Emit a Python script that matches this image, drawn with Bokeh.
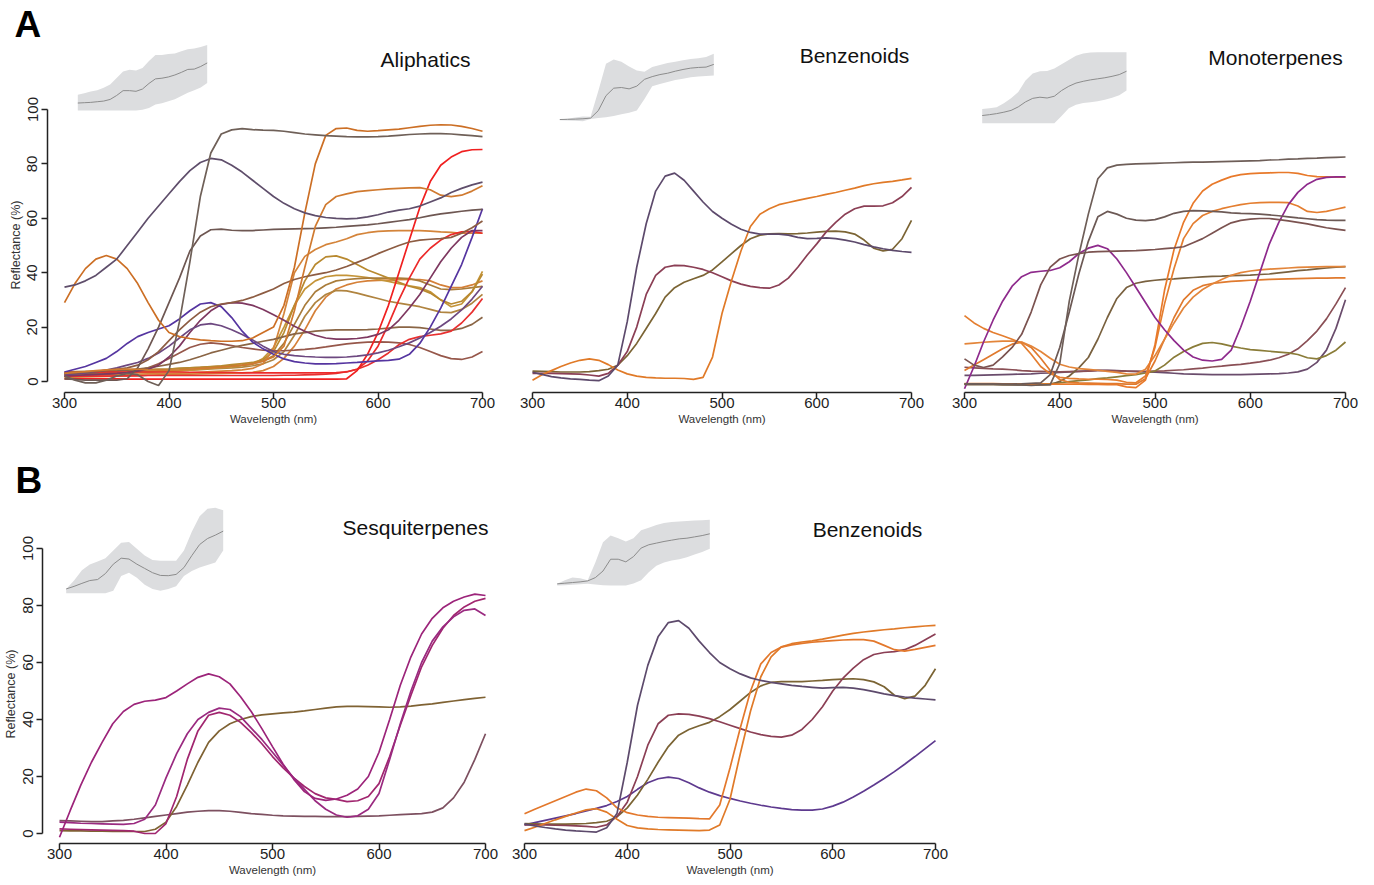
from bokeh.plotting import figure
from bokeh.models import Range1d, Label, FixedTicker, Title
from bokeh.layouts import column, row
from bokeh.embed import file_html
from bokeh.resources import INLINE

FONT = "Liberation Sans"

wavelength = list(range(300, 701, 10))
inset_wavelength = list(range(300, 701, 20))
x_ticks = [300, 400, 500, 600, 700]
y_ticks = [0, 20, 40, 60, 80, 100]

# ---------------- Aliphatics ----------------
ali_c1 = [2.0, 0.5, -0.5, -0.5, 0.5, 2.0, 3.0, 2.5, 0.0, -1.5,
          4.0, 22, 44, 68, 84, 91, 92.5, 93, 92.6, 92.4,
          92.3, 92, 91.5, 91, 90.7, 90.4, 90.2, 90, 89.9, 89.9,
          90, 90.2, 90.5, 90.8, 91, 91.1, 91.1, 91, 90.7, 90.4, 90]
ali_c2 = [34.7, 35.5, 37, 39, 42, 45, 50, 55, 60, 64.5,
          69, 73.5, 77.5, 80.5, 82, 81.5, 79.5, 77, 74, 71,
          68, 65.5, 63.5, 62, 61, 60.3, 60, 59.8, 60, 60.5,
          61.3, 62.3, 63, 63.5, 64.5, 66, 67.5, 69.5, 71, 72.3, 73.3]
ali_c3 = [29, 36, 41.5, 45, 46.3, 45, 41.5, 36, 29, 22.5,
          18, 16.5, 15.8, 15.3, 15, 14.8, 14.8, 15, 16, 18,
          20, 28, 42, 62, 80, 90.5, 93, 93.2, 92.3, 92,
          92.2, 92.5, 92.8, 93.3, 93.8, 94.2, 94.4, 94.3, 93.8, 93, 92]
ali_c4 = [3, 3.3, 3.6, 4, 4.3, 4.5, 4.6, 4.5, 4.3, 4.2,
          4.2, 4.3, 4.5, 4.8, 5, 5.3, 5.6, 6, 6.5, 7.5,
          9, 13, 26, 42, 57, 65, 68, 69, 69.8, 70.2,
          70.5, 70.8, 71, 71.2, 71.3, 70.5, 68.5, 68, 68.5, 70, 72]
ali_c5 = [1, 0.8, 0.5, 0.5, 0.5, 0.5, 1, 5, 12, 20,
          29, 38, 48, 53.5, 55.8, 56, 55.6, 55.5, 55.5, 55.7,
          55.9, 56, 56.1, 56.2, 56.3, 56.5, 56.7, 57, 57.3, 57.6,
          58, 58.5, 59, 59.5, 60.2, 61, 61.6, 62.1, 62.6, 63, 63.3]
ali_c6 = [3, 3.2, 3.5, 3.7, 4, 4.5, 5, 6, 8, 11,
          15, 19, 22.5, 25.5, 27.5, 28.5, 29, 29.8, 31, 32.5,
          34, 36, 37.5, 38.5, 39.3, 40, 41, 42.3, 43.8, 45.3,
          47, 48.5, 50, 51.3, 52, 52.3, 52.5, 53, 54.5, 56.5, 59]
ali_c7 = [3.5, 4.5, 5.5, 7, 8.5, 11, 14, 16.5, 18, 19.3,
          20.5, 23, 26, 28.5, 29, 27.5, 23.5, 18.5, 14.5, 12,
          10, 8.3, 7.3, 6.8, 6.5, 6.5, 6.6, 6.8, 7, 7.3,
          7.6, 7.8, 8.2, 10, 14, 20, 27, 35, 43, 53, 63.5]
ali_c8 = [2.5, 2.8, 3.2, 3.6, 4.2, 5, 6, 7, 8.5, 10.5,
          13, 16, 19, 20.8, 21.3, 20.5, 19, 17.3, 15.3, 13,
          11, 10, 9.5, 9.2, 9, 8.9, 8.9, 9, 9.3, 9.8,
          10.5, 11.5, 12.8, 14.2, 16, 18, 20.3, 23, 26.3, 30.3, 35]
ali_c9 = [2, 2.2, 2.4, 2.6, 2.8, 3, 3.3, 3.8, 4.5, 6,
          9, 13, 18, 22.5, 26, 28.3, 29, 28.8, 28, 26.5,
          24.5, 22.5, 20.3, 18.5, 17, 16, 15.6, 15.6, 15.8, 16.3,
          17.3, 19, 22.5, 27, 32, 38, 44, 49, 53, 55.5, 55.5]
ali_c10 = [2.5, 2.7, 3, 3.2, 3.5, 3.8, 4.2, 4.6, 5, 5.6,
           6.3, 7, 8, 9.2, 10.5, 11.5, 12.5, 13.3, 14, 14.8,
           15.5, 16.5, 17.5, 18, 18.5, 18.8, 19, 19, 19, 19.1,
           19.3, 19.6, 20, 20, 19.8, 19.3, 18.8, 18.8, 19.5, 21, 23.6]
ali_c11 = [1.8, 2, 2.2, 2.4, 2.6, 3, 3.5, 4, 5, 6.5,
           8.5, 10.5, 12.5, 13.7, 14.2, 13.8, 13.2, 12.5, 12, 11.5,
           11.3, 11.3, 11.5, 11.8, 12.2, 12.7, 13.3, 13.8, 14.2, 14.5,
           14.6, 14.5, 14.2, 13.6, 12.5, 11, 9.5, 8.4, 8.1, 9, 11]
ali_c12 = [2, 2.1, 2.2, 2.3, 2.4, 2.5, 2.6, 2.7, 2.8, 2.9,
           3, 3.1, 3.2, 3.4, 3.6, 3.8, 4, 4.3, 4.8, 6.5,
           12, 25, 40, 46, 48.5, 50.3, 51.3, 52.5, 54, 54.7,
           55.2, 55.4, 55.5, 55.5, 55.5, 55.3, 55, 54.8, 54.5, 54.5, 54.5]
ali_r1 = [1, 1, 1, 1, 1, 1, 0.9, 0.9, 0.9, 0.9,
          0.9, 0.9, 0.9, 0.9, 0.9, 0.9, 0.9, 0.9, 0.9, 0.9,
          0.9, 0.9, 0.9, 0.9, 0.9, 0.9, 0.9, 1, 4, 10,
          18, 28, 40, 52, 64, 73.5, 79.5, 82.5, 84.5, 85.2, 85.3]
ali_r2 = [3.3, 3.3, 3.4, 3.4, 3.5, 3.5, 3.5, 3.5, 3.5, 3.5,
          3.5, 3.5, 3.4, 3.4, 3.3, 3.3, 3.3, 3.2, 3.2, 3.2,
          3.2, 3.2, 3.2, 3.2, 3.2, 3.2, 3.3, 3.5, 4.5, 7.5,
          13, 21, 30, 38, 45, 49, 52, 54, 55, 55.2, 54.5]
ali_r3 = [2, 2, 2, 2, 2, 2.1, 2.1, 2.1, 2.2, 2.2,
          2.2, 2.2, 2.2, 2.2, 2.2, 2.2, 2.2, 2.2, 2.2, 2.2,
          2.2, 2.3, 2.3, 2.4, 2.5, 2.7, 3, 3.6, 4.5, 6,
          8, 10.5, 13.5, 15.5, 16.5, 17, 17.5, 18.5, 21.5, 25.5, 30.5]
ali_t1 = [3, 3.2, 3.4, 3.6, 3.8, 4, 4.2, 4.3, 4.4, 4.5,
          4.6, 4.8, 5, 5.2, 5.5, 5.8, 6.2, 6.6, 7, 8,
          11, 18, 28, 37, 43, 45.8, 46.2, 45, 43, 41,
          39.5, 38, 36.5, 35, 34, 32.5, 30, 28.5, 29.5, 33, 39.5]
ali_t2 = [3.5, 3.6, 3.7, 3.8, 4, 4.1, 4.2, 4.3, 4.4, 4.5,
          4.6, 4.8, 5, 5.2, 5.4, 5.6, 5.8, 6, 6.5, 7.5,
          9.5, 14, 21, 28, 33, 35.5, 37, 37.5, 37.8, 38,
          38, 38, 38, 37.8, 37, 35.5, 34, 33.8, 34, 34.5, 35]
ali_t3 = [2.5, 2.6, 2.7, 2.8, 3, 3.1, 3.2, 3.3, 3.4, 3.6,
          3.8, 4, 4.2, 4.5, 4.8, 5.1, 5.4, 5.8, 6.5, 8.5,
          12.5, 20, 28, 34, 37, 38.5, 39, 39, 38.7, 38.2,
          37.5, 36.8, 36, 35.2, 34.5, 33, 30, 27.5, 28.5, 33, 40.5]
ali_t4 = [2.8, 2.9, 3, 3.1, 3.2, 3.3, 3.4, 3.5, 3.6, 3.7,
          3.8, 4, 4.2, 4.4, 4.6, 4.8, 5, 5.3, 5.8, 6.5,
          8, 11, 17, 24, 29, 32, 33.5, 33.3, 32.5, 31.5,
          30.5, 29.5, 28.8, 28.2, 27.5, 26.5, 25.5, 25.3, 26.5, 28.8, 32]
ali_t5 = [1.5, 1.6, 1.7, 1.8, 1.9, 2, 2.1, 2.2, 2.3, 2.4,
          2.5, 2.6, 2.7, 2.8, 2.9, 3, 3.1, 3.2, 3.4, 4,
          5.5, 8.5, 13, 19, 26, 31, 34, 35.5, 36.5, 37,
          37.2, 37.3, 37.4, 37.5, 37.5, 37, 35.5, 34.5, 34.5, 35.5, 37]

# ---------------- Benzenoids (A) ----------------
ben_a_purple = [3.4, 2.6, 1.8, 1.3, 1, 0.8, 0.5, 0.3, 2, 6,
                22, 42, 58, 70, 75.5, 76.6, 74, 70, 66, 62.5,
                60, 57.8, 56, 54.8, 54.2, 54.2, 54.2, 53.8, 53, 52.5,
                52.6, 52.8, 52.5, 52, 51.3, 50.3, 49.5, 48.8, 48.2, 47.8, 47.5]
ben_a_orange = [0.5, 2.5, 4, 5.5, 6.8, 7.8, 8.3, 7.8, 6.2, 4.2,
                2.8, 2, 1.5, 1.3, 1.2, 1.2, 1.1, 0.8, 1.5, 9,
                25, 37, 48, 57, 61.5, 63.5, 65, 65.8, 66.6, 67.3,
                68, 68.8, 69.5, 70.3, 71.1, 72, 72.7, 73.2, 73.6, 74.1, 74.7]
ben_a_maroon = [3, 3, 3, 2.9, 2.8, 2.7, 2.4, 2, 3, 6,
                11, 20, 32, 39, 42, 42.7, 42.6, 42, 41.2, 40,
                38.5, 37, 35.8, 35, 34.5, 34.3, 35.5, 38, 42, 46.5,
                50.6, 55, 58.5, 61.5, 63.5, 64.5, 64.5, 64.6, 65.7, 68, 71.4]
ben_a_olive = [3.8, 3.7, 3.6, 3.5, 3.5, 3.5, 3.6, 4, 4.5, 6,
               9.5, 14, 19.5, 25, 31, 34.5, 36.5, 37.8, 39, 41,
               44, 47, 50, 52.5, 53.8, 54.3, 54.4, 54.3, 54.4, 54.6,
               54.9, 55.2, 55.3, 55, 54.2, 52, 49, 48, 48.6, 52.5, 59.2]

# ---------------- Monoterpenes ----------------
mono_1 = [0.6, 0.6, 0.5, 0.5, 0.4, 0.3, 0.2, 0, 0.2, 0.3,
          8, 31, 48, 63, 76, 80, 81, 81.3, 81.5, 81.6,
          81.7, 81.8, 81.9, 82, 82.1, 82.1, 82.2, 82.3, 82.4, 82.5,
          82.6, 82.7, 82.9, 83, 83.2, 83.3, 83.5, 83.6, 83.8, 83.9, 84]
mono_2 = [0.5, 0.5, 0.5, 0.5, 0.5, 0.5, 0.6, 0.8, 1, 4,
          14, 27, 41, 53, 62, 64, 63, 61.5, 60.8, 60.6,
          61, 62, 63.3, 64, 64.3, 64.2, 64, 63.8, 63.5, 63.3,
          63.2, 63, 62.7, 62.4, 62, 61.6, 61.3, 61, 60.8, 60.7, 60.7]
mono_3 = [9.8, 7.5, 6.6, 7.5, 10.5, 14, 18.8, 27, 37, 43.5,
          46.5, 47.8, 48.5, 49, 49.2, 49.3, 49.4, 49.5, 49.6, 49.8,
          50, 50.3, 50.6, 51, 52.5, 54, 56, 58, 59.8, 60.7,
          61.2, 61.4, 61.4, 61, 60.5, 60, 59.4, 58.7, 58, 57.5, 57]
mono_4 = [-1.2, 7, 16, 24, 31, 36.5, 40, 41.6, 42, 42.3,
          43.3, 45.5, 48.5, 50.5, 51.5, 50.3, 46.5, 41.5, 36, 30.5,
          25, 20.5, 16.5, 13, 10.5, 9.3, 9, 9.6, 13, 21.4,
          31, 41.5, 52, 60, 66.5, 71, 74, 75.8, 76.5, 76.7, 76.7]
mono_5 = [0.7, 0.7, 0.7, 0.7, 0.6, 0.6, 0.5, 0.5, 0.5, 0.5,
          0.5, 0.5, 0.5, 0.4, 0.4, 0.3, 0.3, -0.5, -0.8, 2,
          15, 35, 50, 60, 67, 71.5, 74, 75.5, 76.8, 77.5,
          77.9, 78.1, 78.2, 78.3, 78.3, 78, 77.2, 76.8, 76.7, 76.6, 76.6]
mono_6 = [25.7, 23, 21, 19.5, 18.3, 17, 15.5, 11.5, 7, 4.3,
          3, 2.6, 2.4, 2.3, 2.3, 2.2, 2, 1.2, 1, 3.5,
          14, 30, 43, 54, 59.5, 62.5, 64, 65, 65.8, 66.5,
          67, 67.2, 67.3, 67.3, 67.2, 66, 64, 63.6, 64, 64.8, 65.6]
mono_7 = [15.3, 15.6, 15.9, 16.1, 16.3, 16.3, 16, 14.5, 12.5, 10,
          7.8, 6.8, 6.2, 5.9, 5.6, 5.2, 4.8, 4.3, 4.2, 6,
          11, 17, 23, 28.5, 32.5, 35.3, 37.3, 39, 40.5, 41.5,
          42.1, 42.5, 42.8, 43, 43.2, 43.4, 43.5, 43.6, 43.7, 43.7, 43.7]
mono_8 = [5.5, 7.5, 9.5, 11.5, 13.5, 15.2, 15.9, 14, 10, 5.5,
          2.2, 1.2, 1, 0.9, 0.8, 0.7, 0.7, 0.5, 0.5, 2.5,
          9, 17, 25, 31.5, 35, 36.7, 37.5, 37.9, 38.3, 38.5,
          38.7, 38.8, 39, 39.1, 39.2, 39.3, 39.4, 39.5, 39.5, 39.6, 39.6]
mono_9 = [0.3, 0.3, 0.3, 0.3, 0.2, 0.2, 0.2, 0.2, 0.2, 0.3,
          1.5, 3.5, 6.5, 10.3, 17, 25, 32, 36, 37.6, 38.3,
          38.7, 39, 39.2, 39.5, 39.7, 39.9, 40.1, 40.2, 40.4, 40.5,
          40.6, 40.8, 41, 41.4, 41.8, 42.2, 42.5, 42.9, 43.2, 43.5, 43.7]
mono_10 = [0.5, 0.5, 0.5, 0.5, 0.5, 0.5, 0.5, 0.5, 0.5, 0.7,
           1, 1.4, 1.8, 2.1, 2.5, 2.8, 3.2, 3.6, 4, 4.6,
           5.3, 7.5, 10.4, 12.5, 14.2, 15.5, 15.8, 15.3, 14.5, 13.8,
           13.2, 12.9, 12.6, 12.3, 12, 11.4, 10.2, 9.8, 11, 13, 16]
mono_11 = [6.7, 6.5, 6.3, 6.1, 6, 5.8, 5.5, 5.3, 5.2, 5.1,
           5, 5.1, 5.2, 5.3, 5.5, 5.5, 5.4, 5.3, 5.2, 5.2,
           5.3, 5.4, 5.6, 5.8, 6.1, 6.4, 6.8, 7.1, 7.5, 7.8,
           8.2, 8.7, 9.3, 10.2, 11.5, 13.5, 16.5, 20, 24.5, 30, 36]
mono_12 = [3.7, 3.7, 3.8, 3.9, 4, 4.1, 4.2, 4.3, 4.5, 4.6,
           4.8, 5, 5.2, 5.4, 5.6, 5.6, 5.5, 5.3, 5.2, 5,
           4.9, 4.7, 4.5, 4.3, 4.2, 4.1, 4, 4, 4, 4,
           4.1, 4.2, 4.3, 4.4, 4.6, 5, 6, 8.5, 13, 21, 31.5]

# ---------------- Sesquiterpenes ----------------
ses_1 = [-1.3, 8, 17, 25, 32, 38.5, 42.8, 45.3, 46.4, 46.8,
         47.7, 50, 52.5, 54.8, 56, 55, 52.5, 48, 42.8, 36.8,
         30.5, 24.3, 19, 14.7, 12.3, 11.6, 12.1, 13.4, 15.6, 20,
         28.5, 40, 52, 62, 70, 75.5, 79.2, 81.5, 83, 84, 83.5]
ses_2 = [4, 3.8, 3.6, 3.5, 3.4, 3.3, 3.2, 3.5, 5, 10,
         19.5, 28, 35, 40, 42.5, 44, 43.5, 41, 37, 33,
         28.5, 24, 19.5, 15.5, 11.5, 8.5, 6.5, 5.7, 6.2, 8.5,
         14, 26, 38.5, 50, 60, 67.5, 72.5, 76, 78.3, 78.8, 76.5]
ses_3 = [1.6, 1.5, 1.4, 1.3, 1.2, 1.1, 1, 0.8, 0, 0,
         3.5, 13, 26, 36, 41.5, 42.5, 41.5, 39, 35.5, 31.5,
         27, 23, 19.5, 16.5, 14, 12.5, 12, 11.2, 11.5, 13,
         17.5, 27, 38, 48.5, 58.5, 66, 72, 76.5, 79.5, 81.5, 82.5]
ses_4 = [1, 0.95, 0.9, 0.85, 0.8, 0.75, 0.7, 0.7, 0.7, 1.5,
         4, 9.5, 17, 25, 32, 36, 38.5, 40, 41, 41.6,
         42, 42.3, 42.6, 43, 43.5, 44, 44.4, 44.6, 44.6, 44.5,
         44.4, 44.3, 44.4, 44.7, 45.1, 45.5, 46, 46.5, 47, 47.4, 47.8]
ses_5 = [4.5, 4.4, 4.3, 4.2, 4.2, 4.4, 4.6, 5, 5.5, 6,
         6.5, 7, 7.5, 7.8, 8, 8, 7.8, 7.4, 7, 6.7,
         6.4, 6.2, 6.1, 6, 6, 5.9, 5.9, 5.9, 6, 6.1,
         6.2, 6.4, 6.6, 6.8, 7, 7.5, 9, 12.5, 18, 26, 35]

# ---------------- Benzenoids (B) ----------------
ben_b_purple = [3.4, 2.7, 2.1, 1.6, 1.2, 0.9, 0.7, 0.5, 2, 7,
                25, 45, 59, 69, 74, 74.7, 72, 67.5, 63.5, 60,
                57.8, 56, 54.6, 53.7, 53, 52.5, 52, 51.6, 51.3, 51,
                51.2, 51.3, 51, 50.5, 49.8, 49, 48.4, 47.9, 47.5, 47.2, 46.9]
ben_b_orange1 = [6.9, 8.5, 10, 11.5, 13, 14.5, 15.6, 15, 12.5, 9,
                 7.3, 6.5, 6, 5.7, 5.6, 5.5, 5.4, 5.2, 5.1, 10,
                 23, 37, 50, 59.5, 63.5, 65.4, 66.2, 66.7, 67.1, 67.4,
                 67.7, 67.9, 68, 68, 67.5, 66, 64.5, 64, 64.6, 65.3, 66]
ben_b_orange2 = [1, 2.2, 3.5, 4.8, 6, 7.2, 8.3, 8.7, 7.5, 5,
                 2.8, 2, 1.6, 1.4, 1.3, 1.2, 1.1, 1, 1.2, 3,
                 12, 28, 43, 55, 62, 65.5, 66.6, 67.2, 67.6, 68.2,
                 68.9, 69.6, 70.2, 70.7, 71.1, 71.5, 71.8, 72.2, 72.5, 72.8, 73]
ben_b_violet = [3, 3.8, 4.6, 5.4, 6.2, 7, 7.9, 8.8, 9.8, 11.2,
                13, 15.5, 17.8, 19.2, 19.8, 19.3, 17.8, 16, 14.5, 13.3,
                12.3, 11.4, 10.6, 9.9, 9.3, 8.8, 8.4, 8.2, 8.2, 8.6,
                9.6, 11, 12.8, 14.8, 17, 19.3, 21.7, 24.3, 27, 29.8, 32.6]
ben_b_maroon = [3, 3, 3, 2.9, 2.8, 2.7, 2.5, 2.2, 3, 6,
                11, 20, 31, 38.5, 41.5, 42, 41.8, 41.2, 40.3, 39.2,
                38, 36.8, 35.6, 34.7, 34.1, 33.8, 34.5, 36.5, 40, 44.5,
                50, 54.5, 58, 61, 62.8, 63.5, 63.8, 64.5, 66, 68, 70]
ben_b_olive = [3.5, 3.4, 3.3, 3.3, 3.3, 3.4, 3.5, 3.8, 4.3, 5.8,
               9, 13.5, 19, 25, 30.5, 34.5, 36.5, 37.8, 39, 41,
               43.5, 46.5, 49.5, 51.8, 53, 53.3, 53.3, 53.3, 53.5, 53.7,
               54, 54.2, 54.3, 54, 53.2, 51.5, 48.5, 47.3, 48.2, 52, 57.8]

# ---------------- Inset summaries (mean and band) ----------------
ins_ali_mean = [11.4, 11.9, 12.4, 13.4, 14.4, 16.9, 22.9, 30.3, 30.3, 29.3, 32.8,
                41.3, 48.3, 49.3, 51.2, 54.2, 58.2, 62.7, 63.2, 67.2, 72.6]
ins_ali_hi = [23.9, 26.4, 28.9, 30.8, 34.8, 39.8, 49.8, 59.7, 62.2, 61.2, 64.7,
              75.6, 84.6, 84.6, 86.1, 87.1, 90.5, 93.5, 94.5, 97, 100]
ins_ali_lo = [0, 0, 0, 0, 0, 0, 0, 0, 0, 0, 1, 4, 9, 11, 14, 17, 22, 27, 31, 35, 42]

ins_ben_a_mean = [2.9, 3.2, 3.5, 4, 5, 16, 38, 49, 50, 48, 52, 62, 66, 69, 71, 74, 76.5, 78.5, 79.5, 80, 84]
ins_ben_a_hi = [3, 4, 6, 7.5, 7, 45, 85, 91, 88, 81, 75, 73, 80, 83, 86, 88, 90, 92, 93, 95, 99.5]
ins_ben_a_lo = [2, 1.5, 1, 0.5, 3.5, 5, 6.3, 8, 10.5, 13, 16, 33, 52, 55, 58, 61, 63, 65, 66, 67, 67.6]

ins_mono_mean = [10.8, 12, 13.5, 15.5, 18, 23, 30, 35, 36.6, 35.5, 38, 46, 52, 56.5, 59, 61, 62.5, 64, 66, 68.5, 73.2]
ins_mono_hi = [20, 21, 22.5, 28, 35, 44, 60, 70, 73, 73.5, 77, 83, 89, 95, 98, 99.5, 100, 100, 100, 100, 100]
ins_mono_lo = [0, 0, 0, 0, 0, 0, 0, 0, 0, 0, 0, 10, 21, 26, 28.5, 29.6, 31, 33, 36, 39.5, 46]

ins_ses_mean = [5, 8, 11.5, 14.8, 16, 23, 34, 41, 40, 34, 29, 24, 20.8, 20.5, 22, 30, 44, 57, 64, 68, 72.7]
ins_ses_hi = [5, 15, 27, 33.5, 37, 41, 50, 59, 60, 52, 44, 39, 38, 38, 38, 50, 72, 90, 99, 100, 97]
ins_ses_lo = [0, 0, 0, 0, 0, 0, 3, 20, 24, 18, 10, 5, 3, 5, 8, 20, 26, 30, 33, 36, 50]

ins_ben_b_mean = [2.5, 3.5, 4.5, 5.5, 7, 12, 22, 40, 40, 36, 44, 57, 62, 64.5, 67, 69, 71, 72, 74, 76, 78.7]
ins_ben_b_hi = [2.5, 8, 12, 11, 8, 35, 66, 76, 72, 67, 72, 84, 88, 92, 95, 96.5, 97.5, 98, 99, 99.5, 100]
ins_ben_b_lo = [0, 0.5, 1, 2, 2.5, 1.5, 0.5, 0, 0, 0, 3, 8, 20, 30, 35, 38, 40, 43, 47, 51, 55.8]

ali_series = [
    (ali_t5, "#d58038"), (ali_t4, "#b08440"), (ali_t3, "#c49438"), (ali_t2, "#a97c3a"),
    (ali_t1, "#b8892f"), (ali_c12, "#d4843a"), (ali_c11, "#96574a"), (ali_c10, "#8a6545"),
    (ali_r3, "#e83030"), (ali_r2, "#ec2a2a"), (ali_r1, "#f02020"),
    (ali_c9, "#7e3860"), (ali_c8, "#6d4880"), (ali_c7, "#5535a0"), (ali_c6, "#8d5c42"),
    (ali_c5, "#6e5752"), (ali_c4, "#d07a30"), (ali_c3, "#cc6f25"), (ali_c2, "#5f4e6b"),
    (ali_c1, "#6f6058"),
]
ben_a_series = [(ben_a_olive, "#7b6434"), (ben_a_maroon, "#8b3f55"),
                (ben_a_orange, "#e07a28"), (ben_a_purple, "#5d4a6c")]
mono_series = [
    (mono_12, "#6a4c6c"), (mono_11, "#8a4f55"), (mono_10, "#8a7c38"), (mono_9, "#79613f"),
    (mono_8, "#e07a2e"), (mono_7, "#e3853a"), (mono_6, "#e47e30"), (mono_5, "#e8792a"),
    (mono_4, "#8e2a8c"), (mono_3, "#7b5350"), (mono_2, "#6c5955"), (mono_1, "#6e5e58"),
]
ses_series = [(ses_5, "#7d5060"), (ses_4, "#7f6233"), (ses_3, "#a1266f"),
              (ses_2, "#9a2a80"), (ses_1, "#9c247a")]
ben_b_series = [(ben_b_violet, "#5e3a8f"), (ben_b_olive, "#7b6434"), (ben_b_maroon, "#8b3f55"),
                (ben_b_orange2, "#e07a28"), (ben_b_orange1, "#e3782c"), (ben_b_purple, "#5d4a6c")]


def build(fig_box, x300, x700, y0, y100, axis_py, frame_top, show_y, inset_box,
          series, inset, title, title_px, letter=None, letter_px=None, ylabel_bottom=None):
    fx, fy, fw, fh = fig_box
    ppn = (x700 - x300) / 400.0
    fl = int(round(x300 - 16 * ppn))
    fr = int(round(x700 + 16 * ppn))
    ft = frame_top
    fb = axis_py
    ppv = (y0 - y100) / 100.0

    def to_x(px):
        return 300 + (px - x300) / ppn

    def to_y(py):
        return (y0 - py) / ppv

    p = figure(width=fw, height=fh,
               x_range=Range1d(to_x(fl), to_x(fr)),
               y_range=Range1d(to_y(fb), to_y(ft)),
               output_backend="svg", toolbar_location=None,
               min_border_left=fl - fx, min_border_right=fx + fw - fr,
               min_border_top=ft - fy, min_border_bottom=fy + fh - fb,
               y_axis_location="left" if show_y else None,
               title=letter,
               background_fill_color="white", border_fill_color="white",
               outline_line_color=None)
    p.xgrid.visible = False
    p.ygrid.visible = False

    if letter:
        lx, ly = letter_px
        p.title.text_font = FONT
        p.title.text_font_size = "37px"
        p.title.text_font_style = "bold"
        p.title.text_color = "#000000"
        p.title.align = "left"
        p.title.offset = lx - fl
        p.title.standoff = 0
        p.title.vertical_align = "bottom"

    axes = [p.xaxis[0]] + ([p.yaxis[0]] if show_y else [])
    for ax in axes:
        ax.axis_line_color = "#222222"
        ax.axis_line_width = 1.5
        ax.major_tick_line_color = "#222222"
        ax.major_tick_line_width = 1.5
        ax.major_tick_out = 6
        ax.major_tick_in = 0
        ax.minor_tick_out = 0
        ax.minor_tick_in = 0
        ax.major_label_text_font = FONT
        ax.major_label_text_font_size = "15px"
        ax.major_label_text_color = "#222222"
        ax.major_label_standoff = -1
        ax.axis_label_text_font = FONT
        ax.axis_label_text_font_size = "11.5px"
        ax.axis_label_text_font_style = "normal"
        ax.axis_label_text_color = "#333333"
        ax.axis_label_standoff = 2
    xa = p.xaxis[0]
    xa.ticker = FixedTicker(ticks=x_ticks)
    xa.bounds = (300, 700)
    xa.axis_label = "Wavelength (nm)"
    if show_y:
        ya = p.yaxis[0]
        ya.ticker = FixedTicker(ticks=y_ticks)
        ya.bounds = (0, 100)
        ya.major_label_orientation = "vertical"
        ya.major_label_standoff = 4
        ylab = Title(text="Reflectance (%)", align="left", offset=fb - ylabel_bottom,
                     text_font=FONT, text_font_size="12.5px", text_font_style="normal",
                     text_color="#333333", standoff=3)
        p.add_layout(ylab, "left")

    # inset (own scale placed in its box)
    bx0, bx1, btop, bbot = inset_box
    inpp = 400.0 / (bx1 - bx0)
    ivpp = 100.0 / (bbot - btop)
    p.extra_x_ranges = {"ix": Range1d(300 + (fl - bx0) * inpp, 300 + (fr - bx0) * inpp)}
    p.extra_y_ranges = {"iy": Range1d((bbot - fb) * ivpp, (bbot - ft) * ivpp)}
    mean, lo, hi = inset
    p.varea(x=inset_wavelength, y1=lo, y2=hi, x_range_name="ix", y_range_name="iy",
            fill_color="#dcdddf", fill_alpha=1.0)
    p.line(inset_wavelength, mean, x_range_name="ix", y_range_name="iy",
           line_color="#8c8c8c", line_width=1)

    for vals, col in series:
        p.line(wavelength, vals, line_color=col, line_width=1.7)

    tx, ty = title_px
    p.add_layout(Label(x=to_x(tx), y=to_y(ty), text=title, text_align="center",
                       text_baseline="alphabetic", text_font=FONT,
                       text_font_size="21px", text_color="#111111"))
    return p


ROW_A_TOP, ROW_A_AXIS = 44, 392
ROW_B_TOP, ROW_B_AXIS = 500, 843

a1 = build((0, 0, 500, 445), 64, 482, 381, 109, ROW_A_AXIS, ROW_A_TOP, True, (77.3, 206.7, 44.5, 110),
           ali_series, (ins_ali_mean, ins_ali_lo, ins_ali_hi), "Aliphatics", (425, 58.5),
           "A", (14, 38), ylabel_bottom=289)
a2 = build((500, 0, 440, 445), 532, 911, 381, 109, ROW_A_AXIS, ROW_A_TOP, False, (559.3, 713.3, 53, 121),
           ben_a_series, (ins_ben_a_mean, ins_ben_a_lo, ins_ben_a_hi), "Benzenoids", (854, 55))
a3 = build((940, 0, 434, 445), 964, 1345, 385, 113, ROW_A_AXIS, ROW_A_TOP, False, (981.7, 1126, 51.7, 122.7),
           mono_series, (ins_mono_mean, ins_mono_lo, ins_mono_hi), "Monoterpenes", (1275, 56.5))
b1 = build((0, 445, 505, 440), 59, 485, 833, 548, ROW_B_AXIS, ROW_B_TOP, True, (65.7, 222.7, 507.3, 592.7),
           ses_series, (ins_ses_mean, ins_ses_lo, ins_ses_hi), "Sesquiterpenes", (415, 526.5),
           "B", (15, 493), ylabel_bottom=738)
b2 = build((505, 445, 869, 440), 524, 935, 833, 548, ROW_B_AXIS, ROW_B_TOP, False, (556.7, 709.3, 519.3, 585),
           ben_b_series, (ins_ben_b_mean, ins_ben_b_lo, ins_ben_b_hi), "Benzenoids", (867, 528.5))

layout = column(row(a1, a2, a3), row(b1, b2))
open("out.html", "w").write(file_html(layout, INLINE, title="Reflectance spectra"))
